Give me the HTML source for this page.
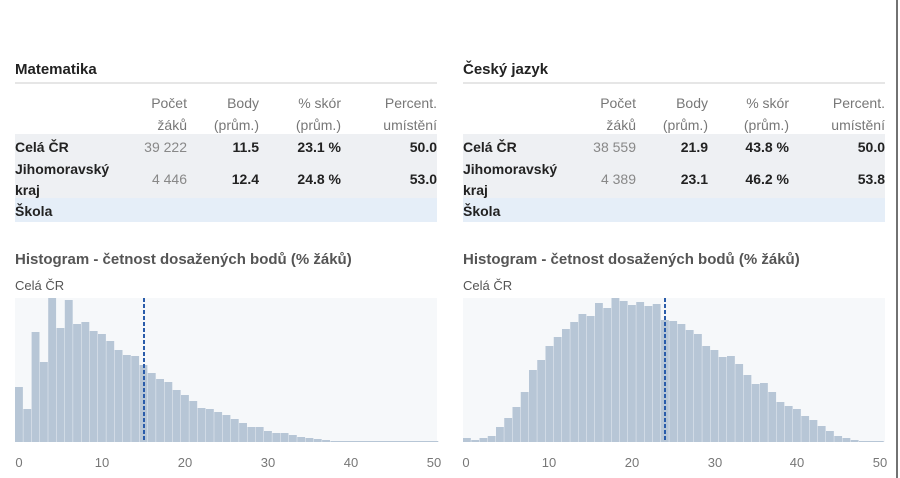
<!DOCTYPE html>
<html><head><meta charset="utf-8"><style>
body{margin:0;background:#fff;}
svg{display:block;font-family:"Liberation Sans","DejaVu Sans",sans-serif;}
.h{font-weight:bold;font-size:15px;fill:#222;}
.c{font-size:14px;fill:#777;text-anchor:end;}
.b{font-size:14px;font-weight:bold;fill:#222;}
.be{font-size:14px;font-weight:bold;fill:#222;text-anchor:end;}
.g{font-size:14px;fill:#888;text-anchor:end;}
.ht{font-weight:bold;font-size:15px;fill:#555;}
.s{font-size:13px;fill:#555;}
.t{font-size:13px;fill:#777;text-anchor:middle;}
</style></head><body>
<svg width="900" height="478" viewBox="0 0 900 478">
<rect width="900" height="478" fill="#fff"/>
<line x1="897" y1="0" x2="897" y2="478" stroke="#444" stroke-width="1.5"/>

<!-- LEFT TABLE -->
<text x="15" y="74" class="h">Matematika</text>
<line x1="15" y1="83" x2="437" y2="83" stroke="#ddd" stroke-width="1.5"/>
<text x="187" y="108" class="c">Počet</text><text x="187" y="130" class="c">žáků</text>
<text x="259" y="108" class="c">Body</text><text x="259" y="130" class="c">(prům.)</text>
<text x="341" y="108" class="c">% skór</text><text x="341" y="130" class="c">(prům.)</text>
<text x="437" y="108" class="c">Percent.</text><text x="437" y="130" class="c">umístění</text>
<rect x="15" y="134" width="422" height="64" fill="#eef0f3"/>
<rect x="15" y="198" width="422" height="24" fill="#e5eef8"/>
<text x="15" y="152" class="b">Celá ČR</text><text x="187" y="152" class="g">39 222</text><text x="259" y="152" class="be">11.5</text><text x="341" y="152" class="be">23.1 %</text><text x="437" y="152" class="be">50.0</text>
<text x="15" y="174" class="b">Jihomoravský</text><text x="15" y="195" class="b">kraj</text>
<text x="187" y="184" class="g">4 446</text><text x="259" y="184" class="be">12.4</text><text x="341" y="184" class="be">24.8 %</text><text x="437" y="184" class="be">53.0</text>
<text x="15" y="216" class="b">Škola</text>

<!-- RIGHT TABLE -->
<text x="463" y="74" class="h">Český jazyk</text>
<line x1="463" y1="83" x2="885" y2="83" stroke="#ddd" stroke-width="1.5"/>
<text x="636" y="108" class="c">Počet</text><text x="636" y="130" class="c">žáků</text>
<text x="708" y="108" class="c">Body</text><text x="708" y="130" class="c">(prům.)</text>
<text x="789" y="108" class="c">% skór</text><text x="789" y="130" class="c">(prům.)</text>
<text x="885" y="108" class="c">Percent.</text><text x="885" y="130" class="c">umístění</text>
<rect x="463" y="134" width="422" height="64" fill="#eef0f3"/>
<rect x="463" y="198" width="422" height="24" fill="#e5eef8"/>
<text x="463" y="152" class="b">Celá ČR</text><text x="636" y="152" class="g">38 559</text><text x="708" y="152" class="be">21.9</text><text x="789" y="152" class="be">43.8 %</text><text x="885" y="152" class="be">50.0</text>
<text x="463" y="174" class="b">Jihomoravský</text><text x="463" y="195" class="b">kraj</text>
<text x="636" y="184" class="g">4 389</text><text x="708" y="184" class="be">23.1</text><text x="789" y="184" class="be">46.2 %</text><text x="885" y="184" class="be">53.8</text>
<text x="463" y="216" class="b">Škola</text>

<!-- HISTOGRAM TITLES -->
<text x="15" y="264" class="ht">Histogram - četnost dosažených bodů (% žáků)</text>
<text x="15" y="290" class="s">Celá ČR</text>
<text x="463" y="264" class="ht">Histogram - četnost dosažených bodů (% žáků)</text>
<text x="463" y="290" class="s">Celá ČR</text>

<!-- LEFT CHART -->
<rect x="15" y="298" width="422" height="144" fill="#f6f8fa"/>
<g transform="translate(15,0) scale(8.3,1)" fill="#b7c6d6">
<rect x="0" y="387" width="0.95" height="55"/><rect x="1" y="409" width="0.95" height="33"/><rect x="2" y="332" width="0.95" height="110"/><rect x="3" y="362" width="0.95" height="80"/><rect x="4" y="298" width="0.95" height="144"/><rect x="5" y="328" width="0.95" height="114"/><rect x="6" y="300" width="0.95" height="142"/><rect x="7" y="324" width="0.95" height="118"/><rect x="8" y="322" width="0.95" height="120"/><rect x="9" y="331" width="0.95" height="111"/><rect x="10" y="334" width="0.95" height="108"/><rect x="11" y="341" width="0.95" height="101"/><rect x="12" y="350" width="0.95" height="92"/><rect x="13" y="355" width="0.95" height="87"/><rect x="14" y="356" width="0.95" height="86"/><rect x="15" y="365" width="0.95" height="77"/><rect x="16" y="373" width="0.95" height="69"/><rect x="17" y="379" width="0.95" height="63"/><rect x="18" y="382" width="0.95" height="60"/><rect x="19" y="390" width="0.95" height="52"/><rect x="20" y="395" width="0.95" height="47"/><rect x="21" y="401" width="0.95" height="41"/><rect x="22" y="408" width="0.95" height="34"/><rect x="23" y="409" width="0.95" height="33"/><rect x="24" y="412" width="0.95" height="30"/><rect x="25" y="415" width="0.95" height="27"/><rect x="26" y="419" width="0.95" height="23"/><rect x="27" y="423" width="0.95" height="19"/><rect x="28" y="427" width="0.95" height="15"/><rect x="29" y="427" width="0.95" height="15"/><rect x="30" y="431" width="0.95" height="11"/><rect x="31" y="433" width="0.95" height="9"/><rect x="32" y="433" width="0.95" height="9"/><rect x="33" y="435" width="0.95" height="7"/><rect x="34" y="437" width="0.95" height="5"/><rect x="35" y="438" width="0.95" height="4"/><rect x="36" y="439" width="0.95" height="3"/><rect x="37" y="440" width="0.95" height="2"/><rect x="38" y="441" width="13" height="1"/>
</g>
<line x1="144" y1="298" x2="144" y2="442" stroke="#2a5caa" stroke-width="2" stroke-dasharray="4,2"/>
<text x="19" y="467" class="t">0</text><text x="102" y="467" class="t">10</text><text x="185" y="467" class="t">20</text><text x="268" y="467" class="t">30</text><text x="351" y="467" class="t">40</text><text x="434" y="467" class="t">50</text>

<!-- RIGHT CHART -->
<rect x="463" y="298" width="422" height="144" fill="#f6f8fa"/>
<g transform="translate(463,0) scale(8.25,1)" fill="#b7c6d6">
<rect x="0" y="438" width="0.95" height="4"/><rect x="1" y="440" width="0.95" height="2"/><rect x="2" y="438" width="0.95" height="4"/><rect x="3" y="436" width="0.95" height="6"/><rect x="4" y="427" width="0.95" height="15"/><rect x="5" y="418" width="0.95" height="24"/><rect x="6" y="407" width="0.95" height="35"/><rect x="7" y="392" width="0.95" height="50"/><rect x="8" y="370" width="0.95" height="72"/><rect x="9" y="360" width="0.95" height="82"/><rect x="10" y="346" width="0.95" height="96"/><rect x="11" y="337" width="0.95" height="105"/><rect x="12" y="329" width="0.95" height="113"/><rect x="13" y="322" width="0.95" height="120"/><rect x="14" y="314" width="0.95" height="128"/><rect x="15" y="316" width="0.95" height="126"/><rect x="16" y="303" width="0.95" height="139"/><rect x="17" y="308" width="0.95" height="134"/><rect x="18" y="298" width="0.95" height="144"/><rect x="19" y="301" width="0.95" height="141"/><rect x="20" y="305" width="0.95" height="137"/><rect x="21" y="302" width="0.95" height="140"/><rect x="22" y="306" width="0.95" height="136"/><rect x="23" y="304" width="0.95" height="138"/><rect x="24" y="320" width="0.95" height="122"/><rect x="25" y="321" width="0.95" height="121"/><rect x="26" y="324" width="0.95" height="118"/><rect x="27" y="330" width="0.95" height="112"/><rect x="28" y="334" width="0.95" height="108"/><rect x="29" y="346" width="0.95" height="96"/><rect x="30" y="350" width="0.95" height="92"/><rect x="31" y="357" width="0.95" height="85"/><rect x="32" y="356" width="0.95" height="86"/><rect x="33" y="364" width="0.95" height="78"/><rect x="34" y="375" width="0.95" height="67"/><rect x="35" y="384" width="0.95" height="58"/><rect x="36" y="383" width="0.95" height="59"/><rect x="37" y="392" width="0.95" height="50"/><rect x="38" y="402" width="0.95" height="40"/><rect x="39" y="406" width="0.95" height="36"/><rect x="40" y="409" width="0.95" height="33"/><rect x="41" y="416" width="0.95" height="26"/><rect x="42" y="420" width="0.95" height="22"/><rect x="43" y="426" width="0.95" height="16"/><rect x="44" y="431" width="0.95" height="11"/><rect x="45" y="436" width="0.95" height="6"/><rect x="46" y="438" width="0.95" height="4"/><rect x="47" y="440" width="0.95" height="2"/><rect x="48" y="441" width="3" height="1"/>
</g>
<line x1="665" y1="298" x2="665" y2="442" stroke="#2a5caa" stroke-width="2" stroke-dasharray="4,2"/>
<text x="466" y="467" class="t">0</text><text x="549" y="467" class="t">10</text><text x="632" y="467" class="t">20</text><text x="715" y="467" class="t">30</text><text x="797" y="467" class="t">40</text><text x="880" y="467" class="t">50</text>
</svg>
</body></html>
